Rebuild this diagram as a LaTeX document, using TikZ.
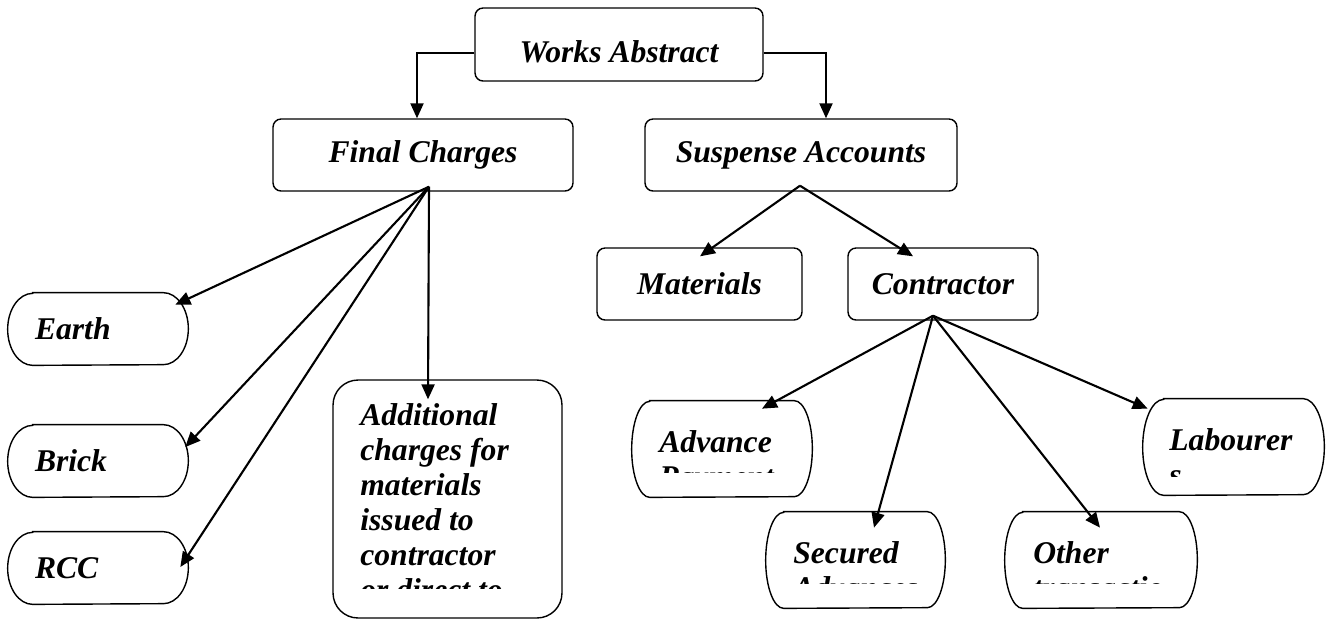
\documentclass[tikz,border=0pt]{standalone}
\usepackage{fontspec}
\setmainfont{Liberation Serif}
\usepackage{tikz}
\usetikzlibrary{arrows.meta,calc}

\begin{document}
\begin{tikzpicture}[
    x=0.02cm, y=-0.02cm,
    txt/.style={font=\fontsize{18}{20}\selectfont\bfseries\itshape, inner sep=0pt},
    headbox/.style={txt, draw, line width=0.8pt, rounded corners=0.16cm,
                    minimum height=1.44cm},
    sidebox/.style={txt, align=left, inner xsep=0.54cm, text width=2.52cm,
                    minimum height=1.44cm},
    blank/.style={inner sep=0pt, minimum height=1.92cm},
    outline/.style={line width=0.8pt},
    link/.style={line width=1.2pt, -{Triangle[length=0.3cm, width=0.26cm]}}
]
\useasboundingbox (0,0) rectangle (1327,620);

% ================================================================
%  Top levels
% ================================================================
\node[headbox, minimum width=5.76cm, minimum height=1.46cm,
      text height=0.7cm, text depth=0pt] (works) at (619,44.5) {Works Abstract};
\node[headbox, minimum width=6.0cm]  (final) at (423,155)   {Final Charges};
\node[headbox, minimum width=6.24cm] (susp)  at (801,155)   {Suspense Accounts};
\node[headbox, minimum width=4.1cm]  (mat)   at (699.5,284) {Materials};
\node[headbox, minimum width=3.8cm]  (contr) at (943,284)   {Contractor};

% works abstract -> two heads
\draw[link] ($(works.west)+(0,8.5)$) -| ($(final.north)+(-6,0)$);
\draw[link] ($(works.east)+(0,8.5)$) -| ($(susp.north)+(25,0)$);

% ================================================================
%  Final charges branch
% ================================================================
\node[sidebox] (earth) at (98,329) {Earth};
\node[sidebox] (brick) at (98,461) {Brick};
\node[sidebox] (rcc)   at (98,568) {RCC};
\node[draw, outline, rounded corners=0.5cm, minimum width=4.58cm,
      minimum height=4.76cm] (add) at (447.5,499) {};

% ================================================================
%  Contractor branch (empty frames, text clipped below)
% ================================================================
\node[blank, minimum width=3.6cm]  (adv) at (722,449)    {};
\node[blank, minimum width=3.58cm] (sec) at (855.5,560)  {};
\node[blank, minimum width=3.84cm] (oth) at (1101,560)   {};
\node[blank, minimum width=3.62cm] (lab) at (1233.5,447) {};

% barrel shaped frames
\foreach \n/\rx/\ry in {earth/25/36, brick/25/36, rcc/25/36,
                        adv/18/48, sec/18/48, oth/18/48, lab/21/48} {
    \draw[outline] ($(\n.north west)+(\rx,0)$) -- ($(\n.north east)+(-\rx,0)$)
        arc[start angle=90, end angle=-90, x radius=\rx*0.02cm, y radius=\ry*0.02cm]
        -- ($(\n.south west)+(\rx,0)$)
        arc[start angle=270, end angle=90, x radius=\rx*0.02cm, y radius=\ry*0.02cm]
        -- cycle;
}

% text cut off at the bottom of each frame
\begin{scope}
    \clip (add.north west) rectangle ($(add.south east)+(0,-30)$);
    \node[txt, anchor=base west] (addtxt) at (360,425)
        {\vtop{\hbox{Additional}\hbox{charges for}\hbox{materials}%
               \hbox{issued to}\hbox{contractor}\hbox{or direct to}}};
\end{scope}
\begin{scope}
    \clip (adv.north west) rectangle ($(adv.south east)+(0,-25)$);
    \node[txt, anchor=base west] (advtxt) at (659,452)
        {\vtop{\hbox{Advance}\hbox{Payment}}};
\end{scope}
\begin{scope}
    \clip (sec.north west) rectangle ($(sec.south east)+(0,-25)$);
    \node[txt, anchor=base west] (sectxt) at (793,563)
        {\vtop{\hbox{Secured}\hbox{Advances}}};
\end{scope}
\begin{scope}
    \clip (oth.north west) rectangle ($(oth.south east)+(0,-25)$);
    \node[txt, anchor=base west] (othtxt) at (1033,563)
        {\vtop{\hbox{Other}\hbox{transactio}}};
\end{scope}
\begin{scope}
    \clip (lab.north west) rectangle ($(lab.south east)+(0,-19)$);
    \node[txt, anchor=base west] (labtxt) at (1169,450)
        {\vtop{\hbox{Labourer}\hbox{s}}};
\end{scope}

% ================================================================
%  Fans
% ================================================================
\coordinate (finalfan) at ($(final.south)+(6,-5)$);
\draw[link] (finalfan) -- ($(earth.north east)+(-13,12)$);
\draw[link] (finalfan) -- ($(brick.east)+(-3,-14)$);
\draw[link] (finalfan) -- ($(rcc.east)+(-8,-1)$);
\draw[link] (finalfan) -- ($(add.north)+(-19.5,20)$);

\coordinate (suspfan) at ($(susp.south)+(-1,-6)$);
\draw[link] (suspfan) -- ($(mat.north)+(0.5,9)$);
\draw[link] (suspfan) -- ($(contr.north)+(-30,9)$);

\coordinate (contrfan) at ($(contr.south)+(-10,-5)$);
\draw[link] (contrfan) -- ($(adv.north)+(40,8)$);
\draw[link] (contrfan) -- ($(sec.north)+(18.5,16)$);
\draw[link] (contrfan) -- ($(oth.north)+(-1,16)$);
\draw[link] (contrfan) -- ($(lab.north west)+(5,10)$);
\end{tikzpicture}
\end{document}
